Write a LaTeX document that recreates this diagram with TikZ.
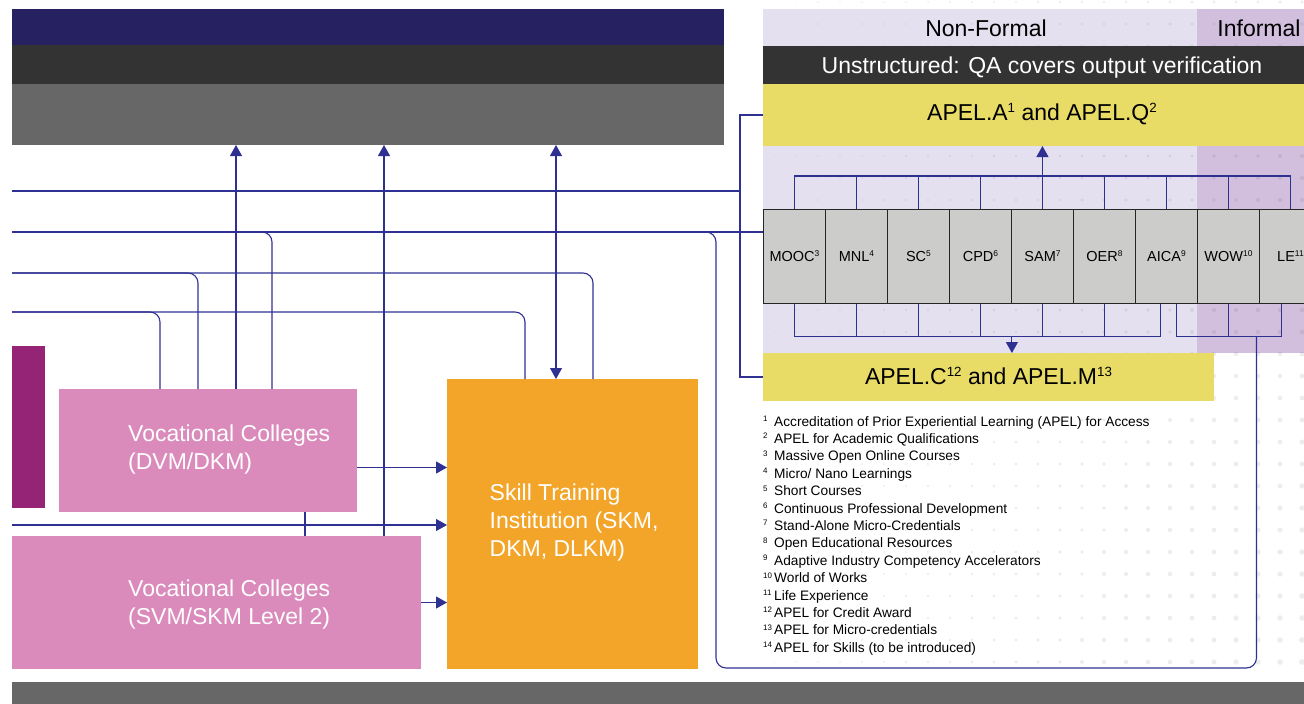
\documentclass[tikz,border=0pt]{standalone}
\usepackage{fontspec}
\setmainfont{Liberation Sans}
\usetikzlibrary{arrows.meta, positioning, calc}

\definecolor{navybar}{HTML}{262262}
\definecolor{darkbar}{HTML}{333333}
\definecolor{greybar}{HTML}{666766}
\definecolor{lavender}{HTML}{E5E0EF}
\definecolor{lilac}{HTML}{D2BFDE}
\definecolor{apelyellow}{HTML}{E8DC66}
\definecolor{cellgrey}{HTML}{CCCCCA}
\definecolor{vcpink}{HTML}{DA8BBB}
\definecolor{plum}{HTML}{952477}
\definecolor{stiorange}{HTML}{F3A529}
\definecolor{linkblue}{HTML}{2E3192}

\newcommand{\supnum}[1]{\raisebox{0.33em}{\scalebox{0.58}{#1}}}

\tikzset{
  band/.style={anchor=north west, inner sep=0pt, outer sep=0pt},
  cell/.style={draw=black!85, line width=0.9pt, fill=cellgrey, anchor=north west, minimum width=62pt, minimum height=94pt, inner sep=0pt, font=\fontsize{14.5}{16}\selectfont},
  big/.style={font=\fontsize{23}{28}\selectfont},
  link/.style={draw=linkblue, line width=1.1pt},
  arrow/.style={link, -{Triangle[width=12pt,length=11pt]}},
  biarrow/.style={link, {Triangle[width=12pt,length=11pt]}-{Triangle[width=12pt,length=11pt]}},
  elbow/.style={link, rounded corners=10pt},
  whitetext/.style={big, text=white, align=left, anchor=west, inner sep=0pt},
  note/.style={anchor=base west, inner sep=0pt, font=\fontsize{13.7}{15}\selectfont},
  dot/.style={fill=black, fill opacity=0.07}
}

\begin{document}
\begin{tikzpicture}[x=1pt, y=-1pt]
    \useasboundingbox (0,0) rectangle (1304,704);
    \clip (0,0) rectangle (1304,704);

    % header and footer bars
    \node[band, fill=navybar, minimum width=712pt, minimum height=36pt] (navy) at (12,9) {};
    \node[band, fill=darkbar, minimum width=712pt, minimum height=39pt] (dark) at (12,45) {};
    \node[band, fill=greybar, minimum width=712pt, minimum height=61pt] (grey) at (12,84) {};
    \node[band, fill=greybar, minimum width=1292pt, minimum height=22pt] (foot) at (12,682) {};

    % non-formal / informal panel
    \node[band, fill=lavender, minimum width=434pt, minimum height=344pt] (nfpanel) at (763,9) {};
    \node[band, fill=lilac, minimum width=124pt, minimum height=344pt] (infpanel) at (1197,9) {};

    % halftone dots
    \foreach \i in {0,...,25}{
        \foreach \j in {0,...,30}{
            \pgfmathsetmacro{\dx}{1302-22*\i}
            \pgfmathsetmacro{\dy}{2+22*\j}
            \pgfmathsetmacro{\dr}{0.6+2.4*(\dx-740)/560*(0.5+0.5*\dy/704)}
            \fill[dot] (\dx,\dy) circle (\dr pt);
        }
    }

    \node[big] (nf) at (986,28) {Non-Formal};
    \node[big] (inf) at (1259,28) {Informal};
    \node[band, big, text depth=0pt, fill=darkbar, text=white, minimum width=558pt, minimum height=38pt] (unstr) at (763,46) {Unstructured: QA covers output verification};
    \node[band, big, text depth=6pt, fill=apelyellow, minimum width=558pt, minimum height=62pt] (apelAQ) at (763,84) {APEL.A\supnum{1} and APEL.Q\supnum{2}};
    \node[band, big, text depth=2pt, fill=apelyellow, minimum width=451pt, minimum height=48pt] (apelCM) at (763,353) {APEL.C\supnum{12} and APEL.M\supnum{13}};

    % learning pathways
    \foreach \n/\t [count=\i] in {mooc/MOOC\supnum{3}, mnl/MNL\supnum{4}, sc/SC\supnum{5},
        cpd/CPD\supnum{6}, sam/SAM\supnum{7}, oer/OER\supnum{8},
        aica/AICA\supnum{9}, wow/WOW\supnum{10}, le/LE\supnum{11}}
        \node[cell] (\n) at ({763+62*(\i-1)}, 209) {\t};

    % institutions
    \node[band, fill=plum, minimum width=33pt, minimum height=162pt] (strip) at (12,346) {};
    \node[band, fill=vcpink, minimum width=298pt, minimum height=123pt] (dvm) at (59,389) {};
    \node[band, fill=vcpink, minimum width=409pt, minimum height=133pt] (svm) at (12,536) {};
    \node[band, fill=stiorange, minimum width=251pt, minimum height=290pt] (sti) at (447,379) {};
    \node[whitetext] (dvmtext) at ([xshift=69pt, yshift=0.5pt]dvm.west) {Vocational Colleges\\(DVM/DKM)};
    \node[whitetext] (svmtext) at ([xshift=116pt, yshift=-2pt]svm.west) {Vocational Colleges\\(SVM/SKM Level 2)};
    \node[whitetext] (stitext) at ([xshift=42.5pt, yshift=1pt]sti.west) {Skill Training\\Institution (SKM,\\DKM, DLKM)};

    % footnotes
    \foreach \t [count=\i] in {{Accreditation of Prior Experiential Learning (APEL) for Access},
        {APEL for Academic Qualifications}, {Massive Open Online Courses}, {Micro/ Nano Learnings},
        {Short Courses}, {Continuous Professional Development}, {Stand-Alone Micro-Credentials},
        {Open Educational Resources}, {Adaptive Industry Competency Accelerators}, {World of Works},
        {Life Experience}, {APEL for Credit Award}, {APEL for Micro-credentials},
        {APEL for Skills (to be introduced)}}
        \node[note] (fn\i) at (763, {426+17.4*(\i-1)}) {\makebox[11pt][l]{\supnum{\i}}\t};

    % free ends on the left
    \coordinate (in1) at (12,191);
    \coordinate (in2) at (12,232);
    \coordinate (in3) at (12,273);
    \coordinate (in4) at (12,312);
    \coordinate (in5) at (12,525);
    \coordinate (loopc) at (716,668);

    % brackets above and below the pathways
    \draw[link] (mooc.north) -- ++(0,-33) -| (le.north);
    \foreach \b in {mnl, sc, cpd, oer, aica, wow}
        \draw[link] (\b.north) -- ++(0,-33);
    \draw[arrow] (sam.north) -- (sam.north |- apelAQ.south);
    \draw[link] (mooc.south) -- ++(0,33) -| ([xshift=-6pt]aica.south);
    \foreach \b in {mnl, sc, cpd, sam, oer}
        \draw[link] (\b.south) -- ++(0,33);
    \draw[arrow] ([yshift=-33pt]cpd.south east) -- (cpd.south east |- apelCM.north);
    \draw[link] ([xshift=10pt]aica.south) -- ++(0,33) -| ([xshift=-9pt]le.south);
    \draw[link] (wow.south) -- ++(0,33);
    \coordinate (infjoin) at ([xshift=28pt, yshift=-33pt]wow.south);

    % APEL links
    \draw[link] (apelAQ.west) -- ++(-23,0) |- (apelCM.west);
    \draw[link] (in1) -- ([xshift=-23pt]apelAQ.west |- in1);
    \draw[link] (in2) -- (in2 -| mooc.west);
    \draw[elbow] (in2) -| (loopc) -| (infjoin);

    % feeds into the colleges and the institution
    \draw[elbow] (in2) -| ([xshift=213pt]dvm.north west);
    \draw[elbow] (in3) -| ([xshift=139pt]dvm.north west);
    \draw[elbow] (in3) -| ([xshift=146pt]sti.north west);
    \draw[elbow] (in4) -| ([xshift=101pt]dvm.north west);
    \draw[elbow] (in4) -| ([xshift=78pt]sti.north west);
    \draw[link] ([xshift=246pt]dvm.south west) -- ([xshift=246pt]dvm.south west |- svm.north);

    % upward routes
    \coordinate (up1) at ([xshift=177pt]dvm.north west);
    \coordinate (up2) at ([xshift=372pt]svm.north west);
    \coordinate (up3) at ([xshift=109pt]sti.north west);
    \draw[arrow] (up1) -- (up1 |- grey.south);
    \draw[arrow] (up2) -- (up2 |- grey.south);
    \draw[biarrow] (up3 |- grey.south) -- (up3);

    % into the skill training institution
    \draw[arrow] ([yshift=-17pt]dvm.east) -- ([yshift=-17pt]dvm.east -| sti.west);
    \draw[arrow] (in5) -- (in5 -| sti.west);
    \draw[arrow] (svm.east) -- (svm.east -| sti.west);
\end{tikzpicture}
\end{document}
